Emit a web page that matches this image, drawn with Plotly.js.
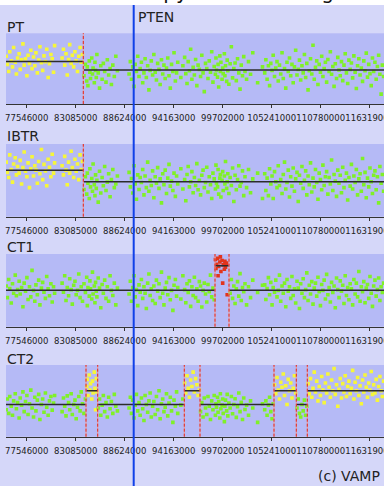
<!DOCTYPE html>
<html><head><meta charset="utf-8">
<script src="https://cdn.plot.ly/plotly-3.0.1.min.js"></script>
<style>html,body{margin:0;padding:0;background:#fff;}#chart{width:384px;height:486px;}</style>
</head><body><div id="chart"></div>
<script>
// ---- data ----
const samples = ['PT', 'IBTR', 'CT1', 'CT2'];
const tickPositions = [77546000, 83085000, 88624000, 94163000, 99702000, 105241000, 110780000, 116319000];
const tickLabels = ['77546000', '83085000', '88624000', '94163000', '99702000', '105241000', '110780000', '116319000'];
const geneName = 'PTEN';
const genePosition = 89641000;
const viewStart = 75206000, viewEnd = 117935000;
const titleText = 'Copy number along chromosome 10';
const creditText = '(c) VAMP';

// probe positions, in units of 10 kb
const probePos = [
7523,7536,7551,7563,7580,7594,7607,7625,7638,7652,
7669,7681,7697,7712,7726,7741,7757,7770,7786,7801,
7815,7832,7846,7859,7875,7890,7904,7921,7935,7950,
7966,7981,7997,8012,8028,8043,8058,8070,
8155,8170,8184,8199,8213,8228,8241,8257,8270,8286,
8300,8314,8329,8343,8358,8371,8385,8402,8418,8433,
8440,8447,8462,8469,8476,8490,8498,8505,8519,8526,
8533,8541,8548,8563,8578,8592,8607,8621,8636,8651,
8666,8681,8697,8712,8728,8745,8762,8780,
8912,8926,8939,8953,8968,8981,8995,9010,9024,9037,
9051,9066,9080,9093,9107,9122,9136,9150,9163,9178,
9192,9207,9221,9235,9250,9263,9278,9292,9306,9320,
9335,9349,9363,9378,9392,9407,9420,9435,9449,9462,
9497,9520,9540,9553,9567,9580,9594,9608,9622,9636,
9650,9664,9678,9692,9706,9720,9734,9748,9762,9776,
9790,9804,9818,9832,9846,9860,9874,9888,9894,9900,
9912,9918,9925,9938,9944,9950,9963,9970,9976,9989,
9995,10002,10015,10021,10028,10040,10054,10068,10082,10096,
10110,10124,10138,10152,10166,10180,10194,10208,10222,10240,
10262,10285,10310,10365,10420,
10445,10458,10472,10487,10500,10514,10528,10541,10556,10570,
10584,10598,10612,10626,10641,10655,10669,10683,10697,10711,
10725,10739,10753,10767,10781,10795,10810,10824,10838,10852,
10866,10880,10894,10908,10921,10935,10949,10963,10977,10991,
11005,11019,11033,11047,11061,11075,11089,11103,11117,11131,
11145,11159,11173,11187,11201,11215,11229,11243,11257,11271,
11285,11299,11313,11327,11341,11355,11369,11383,11397,11411,
11425,11439,11453,11467,11481,11495,11509,11523,11537,11551,
11565,11579,11593,11607,11621,11635,11649,11663,11677,11691,
11705,11719,11733,11747,11761,11775,11789
];

// log ratios, in hundredths
const ratioPT = [
35,12,-8,48,22,5,60,18,-15,30,
42,-2,25,70,10,28,-20,38,15,52,
0,33,8,45,-12,24,62,17,-5,36,
20,55,-25,14,40,28,-10,65,
30,55,10,42,-18,26,68,15,38,5,
48,22,-8,35,60,18,40,-20,12,-35,
5,-48,22,-10,-28,30,-15,2,-40,18,
-5,-25,40,-12,-55,8,-30,15,-8,-38,
25,-18,0,-45,10,-22,35,-6,
-15,20,-30,5,-50,12,-8,35,-22,0,
18,-40,-12,28,-25,8,-60,-5,22,-18,
40,-10,-32,15,-2,-45,25,-15,10,-28,
2,30,-20,-55,12,-8,45,-35,-12,18,
-25,8,32,-14,-42,20,-6,55,-30,4,
-18,26,-48,10,-2,-22,38,-12,-65,15,
0,-28,22,-10,48,-38,6,-16,30,-4,
-24,12,-52,36,-8,18,-30,2,-14,42,
-20,8,-36,24,-6,-44,14,62,-26,0,
16,-34,28,-12,-58,10,-20,34,-8,-30,
20,-16,45,-40,5,
-12,25,-30,8,-48,15,-5,38,-22,2,
20,-35,10,-15,45,-28,0,-55,18,-8,
30,-20,12,-40,5,52,-18,-2,24,-32,
8,-12,40,-25,15,-60,-6,28,-15,66,
-30,4,22,-45,12,-10,35,-22,0,18,
-38,26,-8,48,-16,6,-50,14,-28,32,
-4,-20,20,-34,10,42,-12,-42,24,-2,
16,-26,36,-10,-56,8,28,-18,2,-36,
22,-6,44,-24,12,-14,-48,30,-8,18,
-30,6,38,-16,-72,10,-22
];
const ratioIBTR = [
50,22,8,70,30,-5,45,62,15,38,
20,55,-10,35,78,25,10,48,-20,32,
65,12,40,28,-8,52,18,85,2,44,
26,-15,58,36,10,72,20,48,
40,15,66,28,-12,50,20,80,35,8,
58,25,45,2,70,30,52,-25,10,-38,
20,-8,-50,32,-18,5,-30,45,-12,-42,
15,-22,0,-60,25,-35,8,-15,38,-28,
-5,18,-45,2,30,-20,-10,12,
22,-18,5,-35,40,-10,-52,15,-25,8,
-6,30,-40,12,-20,50,-30,0,-14,26,
-48,10,-8,35,-22,4,-62,18,-12,28,
-36,6,44,-16,-2,-28,20,-44,12,-10,
32,-24,2,-56,16,38,-18,-4,24,-34,
8,-14,46,-26,0,-40,14,28,-20,-6,
36,-32,10,-12,-50,20,4,-24,42,-8,
-18,30,-38,6,16,-46,0,24,-28,12,
-10,52,-22,-4,18,-36,8,-14,34,-58,
14,-26,2,40,-16,-6,26,-42,10,-20,
30,-34,4,20,-50,
18,-28,6,-42,32,-10,12,-50,24,-4,
-20,40,-14,2,-36,16,50,-24,-6,28,
-46,10,-16,34,-30,4,22,-58,14,-8,
38,-22,0,26,-40,12,-12,48,-32,6,
-18,30,-6,-52,20,2,-26,42,-14,10,
24,-38,8,-10,56,-28,16,-2,-44,28,
-8,14,-34,36,-20,0,20,-54,8,-16,
44,-24,12,-6,30,-40,4,18,-30,60,
-12,22,-48,6,-18,34,-4,-36,14,26,
-26,10,-62,38,-8,16,-30
];
const ratioCT1 = [
12,-20,30,5,-35,18,-8,42,-15,2,
25,-10,8,-45,20,-2,35,-25,10,-18,
55,0,-30,15,-12,28,-40,6,22,-5,
-22,38,4,-15,18,-32,10,-8,
20,-5,40,-28,8,-15,32,2,-38,14,
25,-12,0,45,-20,10,-30,18,-6,36,
-42,8,-16,26,4,-24,50,-10,12,-34,
22,-2,-18,34,6,-48,16,-8,28,-22,
10,-30,40,0,-14,20,-40,6,
-10,25,-30,8,40,-18,2,-42,15,-5,
30,-22,10,-8,-50,20,45,-14,4,-28,
12,-36,28,-2,18,-20,50,-8,-40,6,
22,-12,35,-26,0,-55,14,30,-16,8,
-24,40,2,-34,18,-6,26,-44,10,-14,
36,-20,4,-30,24,12,-46,0,20,-10,
-32,16,-4,42,-18,6,-26,85,60,72,
88,40,66,78,92,52,82,20,70,58,
80,64,75,-12,118,132,-8,30,-22,12,
-36,4,24,-16,46,-28,8,-4,18,-40,
10,-20,28,-6,14,
15,-25,5,35,-12,22,-40,8,-5,28,
-18,0,42,-30,12,-8,20,-45,30,-2,
10,-22,38,-14,4,-35,25,6,-50,18,
-8,32,-20,2,48,-28,14,-10,24,-38,
6,20,-16,36,-4,-42,16,0,28,-24,
44,-12,8,-32,22,-6,12,-48,34,2,
-20,26,-2,14,-36,40,-14,8,-26,18,
4,-40,30,-10,20,-18,52,-30,10,-4,
24,-34,6,16,-22,38,-8,-44,12,28,
-16,2,34,-28,10,-6,20
];
const ratioCT2 = [
-25,5,-35,12,-15,-40,0,20,-22,-5,
-48,8,-12,25,-30,-2,15,-38,-8,30,
-20,-45,10,-28,2,18,-52,-10,5,-32,
22,-18,-40,0,12,-26,-6,15,
-30,8,-15,-42,14,-5,-25,20,-38,-10,
2,-50,-18,12,-28,25,-8,-35,5,40,
60,15,72,30,48,5,55,22,80,35,
-25,62,25,-20,5,-40,-12,15,-30,-5,
-45,10,-22,-2,-35,18,-15,-28,
-20,10,-35,2,-48,-12,18,-28,-5,-40,
8,-22,-55,15,-10,-32,0,22,-45,-15,
-2,-38,12,-25,28,-50,-8,5,-30,-18,
20,-42,-6,10,-28,-60,2,-15,25,-35,
-12,5,50,22,70,35,10,58,40,80,
25,62,45,15,30,-30,-5,-45,8,-20,
-38,12,-15,-52,0,-25,15,-40,-8,-18,
10,-32,-2,-48,20,-22,-12,5,-35,-58,
-15,2,-28,18,-42,-6,-20,12,-36,-10,
6,-46,-16,22,-30,-4,-52,8,-24,-12,
-40,0,-20,-60,-8,
-25,0,-40,-12,10,-30,-50,-8,45,20,
65,30,5,52,38,75,15,42,-10,60,
28,50,8,35,70,22,-20,5,-35,-45,
-10,-28,2,-40,-15,48,20,62,10,35,
80,25,55,0,40,15,68,30,-5,50,
22,75,38,10,58,28,90,18,45,-15,
32,62,8,48,25,70,12,40,55,20,
35,85,5,52,28,65,15,42,-8,58,
25,72,38,10,50,30,82,18,45,22,
60,2,40,68,28,12,55
];

// segmentation: breakpoints (bp), segment levels (hundredths), segment status
const breaksPT = [83944000];
const levelsPT = [20, -4];
const statusPT = ['gain', 'normal'];
const breaksIBTR = [83944000];
const levelsIBTR = [28, -4];
const statusIBTR = ['gain', 'normal'];
const breaksCT1 = [98831000, 100414000];
const levelsCT1 = [0, 68, 0];
const statusCT1 = ['normal', 'amp', 'normal'];
const breaksCT2 = [84249000, 85572000, 95361000, 97136000, 105501000, 108022000, 109265000];
const levelsCT2 = [-10, 28, -10, 28, -10, 28, -10, 28];
const statusCT2 = ['normal', 'gain', 'normal', 'gain', 'normal', 'gain', 'normal', 'gain'];

// ---- figure ----
const W = 384, H = 486;
const statusColor = {normal: '#80f028', gain: '#f6f63a', amp: '#e2341c'};
const panelDomains = [[1 - 104 / H, 1 - 33.3 / H], [1 - 216.7 / H, 1 - 144 / H], [1 - 326.7 / H, 1 - 254 / H], [1 - 436.7 / H, 1 - 365 / H]];
const labelY = [28, 137, 248, 360];
const panels = [
  {ratio: ratioPT, breaks: breaksPT, levels: levelsPT, status: statusPT},
  {ratio: ratioIBTR, breaks: breaksIBTR, levels: levelsIBTR, status: statusIBTR},
  {ratio: ratioCT1, breaks: breaksCT1, levels: levelsCT1, status: statusCT1},
  {ratio: ratioCT2, breaks: breaksCT2, levels: levelsCT2, status: statusCT2}
];

const traces = [];
const shapes = [];
const annotations = [];
const layout = {
  width: W, height: H, margin: {l: 0, r: 0, t: 0, b: 0},
  paper_bgcolor: '#d5d7f9', plot_bgcolor: '#b5baf6',
  showlegend: false, hovermode: false,
  font: {family: 'DejaVu Sans', color: '#222'},
  title: {text: titleText, x: 137 / W, xanchor: 'left', xref: 'container',
    y: 1 - 0.6 / H, yanchor: 'bottom', yref: 'container', pad: {t: 0, b: 2, l: 0, r: 0},
    font: {family: 'DejaVu Sans', size: 20, color: '#111'}}
};

shapes.push({type: 'rect', xref: 'paper', yref: 'paper', x0: 0, x1: 1, y0: 1 - 5 / H, y1: 1,
  fillcolor: '#ffffff', line: {width: 0}, layer: 'below'});

panels.forEach((p, i) => {
  const s = i === 0 ? '' : String(i + 1);
  const xa = 'x' + s, ya = 'y' + s;
  const bounds = [viewStart].concat(p.breaks, [viewEnd]);
  const segOf = pos => { let k = 0; while (k < p.breaks.length && pos > p.breaks[k]) k++; return k; };
  const n = Math.min(probePos.length, p.ratio.length);
  const px = [], py = [], pc = [], ox = [], oy = [];
  for (let j = 0; j < n; j++) {
    const pos = probePos[j] * 10000;
    const st = p.status[segOf(pos)];
    if (p.ratio[j] > 100) { ox.push(pos); oy.push(106); continue; }
    px.push(pos); py.push(p.ratio[j]); pc.push(statusColor[st]);
  }
  traces.push({type: 'scatter', mode: 'markers', x: px, y: py, xaxis: xa, yaxis: ya,
    marker: {symbol: 'square', size: 3.6, color: pc, line: {width: 0}}});
  if (ox.length) {
    traces.push({type: 'scatter', mode: 'markers', x: ox, y: oy, xaxis: xa, yaxis: ya, cliponaxis: false,
      marker: {symbol: 'line-ne', size: 7, color: statusColor.amp, line: {width: 1, color: '#e86050'}}});
  }
  // segment means
  const sx = [], sy = [];
  for (let k = 0; k < p.levels.length; k++) {
    sx.push(bounds[k], bounds[k + 1], null);
    sy.push(p.levels[k], p.levels[k], null);
  }
  traces.push({type: 'scatter', mode: 'lines', x: sx, y: sy, xaxis: xa, yaxis: ya,
    line: {color: '#2c2c2c', width: 1.5}});
  // breakpoints
  p.breaks.forEach(b => {
    shapes.push({type: 'line', xref: xa, yref: ya + ' domain', x0: b, x1: b, y0: 0, y1: 1,
      line: {color: '#ec9a9a', width: 1}});
    shapes.push({type: 'line', xref: xa, yref: ya + ' domain', x0: b, x1: b, y0: 0, y1: 1,
      line: {color: '#e02a22', width: 1, dash: '3px,2px'}});
  });
  layout['xaxis' + s] = {
    domain: [6 / W, 1], range: [viewStart, viewEnd], anchor: ya, fixedrange: true,
    tickmode: 'array', tickvals: tickPositions, ticktext: tickLabels, tickangle: 0,
    ticks: 'outside', ticklen: 3, tickcolor: '#333', tickwidth: 1,
    showline: true, linecolor: '#333', linewidth: 1, mirror: false,
    showgrid: false, zeroline: false, ticklabeloverflow: 'allow', ticklabelstandoff: 3,
    tickfont: {family: 'DejaVu Sans', size: 8.5, color: '#222'}
  };
  layout['yaxis' + s] = {
    domain: panelDomains[i], range: [-100, 100], anchor: xa, fixedrange: true,
    showticklabels: false, ticks: '', showgrid: false, zeroline: false, showline: false
  };
  annotations.push({xref: 'paper', yref: 'paper', x: 5 / W, y: 1 - (labelY[i] - 1) / H,
    xanchor: 'left', yanchor: 'middle', showarrow: false, text: samples[i],
    font: {family: 'DejaVu Sans', size: 14, color: '#222'}});
});

shapes.push({type: 'line', xref: 'x', yref: 'paper', x0: genePosition, x1: genePosition, y0: 0, y1: 1 - 5 / H,
  line: {color: '#1040e8', width: 2}});

annotations.push({xref: 'paper', yref: 'paper', x: 136 / W, y: 1 - 17.5 / H, xanchor: 'left', yanchor: 'middle',
  showarrow: false, text: geneName, font: {family: 'DejaVu Sans', size: 14, color: '#222'}});
annotations.push({xref: 'paper', yref: 'paper', x: 316 / W, y: 1 - 476 / H, xanchor: 'left', yanchor: 'middle',
  showarrow: false, text: creditText, font: {family: 'DejaVu Sans', size: 14, color: '#222'}});

layout.shapes = shapes;
layout.annotations = annotations;

Plotly.newPlot('chart', traces, layout, {staticPlot: true, displayModeBar: false});
</script>
</body></html>
